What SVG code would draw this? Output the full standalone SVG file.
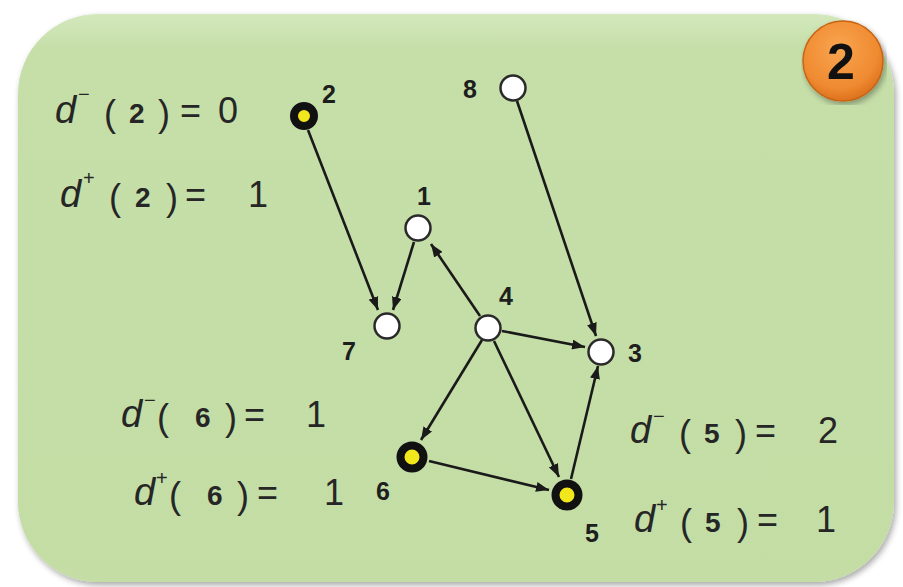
<svg xmlns="http://www.w3.org/2000/svg" width="903" height="587" viewBox="0 0 903 587">
<defs>
<linearGradient id="bg" x1="0" y1="0" x2="0" y2="1">
<stop offset="0" stop-color="#d3e8bd"/>
<stop offset="0.06" stop-color="#c6dfa9"/>
<stop offset="1" stop-color="#c3dda5"/>
</linearGradient>
<radialGradient id="badge" cx="0.45" cy="0.35" r="0.7">
<stop offset="0" stop-color="#f9a550"/>
<stop offset="0.7" stop-color="#ef8a30"/>
<stop offset="1" stop-color="#d86a18"/>
</radialGradient>
<filter id="sh" x="-5%" y="-5%" width="110%" height="110%">
<feGaussianBlur in="SourceAlpha" stdDeviation="3"/>
<feOffset dx="2" dy="3"/>
<feComponentTransfer><feFuncA type="linear" slope="0.35"/></feComponentTransfer>
<feMerge><feMergeNode/><feMergeNode in="SourceGraphic"/></feMerge>
</filter>
<marker id="arr" viewBox="0 0 13 10" refX="13" refY="5" markerWidth="13" markerHeight="10" markerUnits="userSpaceOnUse" orient="auto">
<path d="M0,0 L13,5 L0,10 Z" fill="#1a1a1a"/>
</marker>
</defs>
<style>
.t{font-family:"Liberation Sans",Arial,sans-serif;fill:#262626}
.d{font-style:italic;font-size:38px}
.p{font-size:36px}
.s{font-size:20px}
.b{font-weight:bold;font-size:28px}
.n{font-size:36px}
.lb{font-family:"Liberation Sans",Arial,sans-serif;font-weight:bold;font-size:25px;fill:#1e1e1e}
.e{stroke:#1a1a1a;stroke-width:2.6;fill:none;marker-end:url(#arr)}
.w{fill:#ffffff;stroke:#2a2a2a;stroke-width:2.5}
.y{fill:#f2e61c;stroke:#111111;stroke-width:8}
</style>
<rect width="903" height="587" fill="#ffffff"/>
<rect x="18" y="14" width="876" height="568" rx="80" ry="80" fill="url(#bg)" filter="url(#sh)"/>

<g id="badge2">
<circle cx="843" cy="61" r="40" fill="url(#badge)" stroke="#c86414" stroke-width="1.5" filter="url(#sh)"/>
<text x="841" y="79" text-anchor="middle" font-family="Liberation Sans,Arial,sans-serif" font-weight="bold" font-size="50" fill="#111">2</text>
</g>

<g id="connectors">
<line class="e" x1="308" y1="130" x2="378" y2="310"/>
<line class="e" x1="414" y1="242" x2="393" y2="310"/>
<line class="e" x1="480" y1="316" x2="431" y2="244"/>
<line class="e" x1="502" y1="331" x2="585" y2="347"/>
<line class="e" x1="517" y1="101" x2="596" y2="336"/>
<line class="e" x1="482" y1="340" x2="421" y2="440"/>
<line class="e" x1="494" y1="341" x2="559" y2="477"/>
<line class="e" x1="429" y1="461" x2="549" y2="490"/>
<line class="e" x1="571" y1="479" x2="598" y2="366"/>
</g>

<g id="node2"><circle class="y" cx="304" cy="116" r="10"/><text class="lb" x="322" y="103">2</text></g>
<g id="node8"><circle class="w" cx="513" cy="88" r="12.5"/><text class="lb" x="463" y="98">8</text></g>
<g id="node1"><circle class="w" cx="418" cy="228" r="12.5"/><text class="lb" x="417" y="205">1</text></g>
<g id="node7"><circle class="w" cx="387" cy="326" r="12.5"/><text class="lb" x="342" y="360">7</text></g>
<g id="node4"><circle class="w" cx="488" cy="328" r="12.5"/><text class="lb" x="499" y="305">4</text></g>
<g id="node3"><circle class="w" cx="601" cy="352" r="12.5"/><text class="lb" x="628" y="362">3</text></g>
<g id="node6"><circle class="y" cx="412" cy="457" r="11.5"/><text class="lb" x="376" y="500">6</text></g>
<g id="node5"><circle class="y" cx="567" cy="495" r="11.5"/><text class="lb" x="585" y="542">5</text></g>

<g id="deg2">
<text class="t d" x="55" y="123">d</text><text class="t s" x="78" y="101">−</text>
<text class="t p" x="104" y="126">(</text><text class="t b" x="129" y="123">2</text><text class="t p" x="158" y="126">)</text>
<text class="t n" x="180" y="123">=</text><text class="t n" x="218" y="123">0</text>
<text class="t d" x="60" y="207">d</text><text class="t s" x="83" y="185">+</text>
<text class="t p" x="109" y="210">(</text><text class="t b" x="135" y="207">2</text><text class="t p" x="166" y="210">)</text>
<text class="t n" x="185" y="207">=</text><text class="t n" x="248" y="207" font-size="40">1</text>
</g>
<g id="deg6">
<text class="t d" x="121" y="427">d</text><text class="t s" x="144" y="407">−</text>
<text class="t p" x="157" y="430">(</text><text class="t b" x="195" y="427">6</text><text class="t p" x="225" y="430">)</text>
<text class="t n" x="244" y="427">=</text><text class="t n" x="306" y="427">1</text>
<text class="t d" x="134" y="505">d</text><text class="t s" x="156" y="485">+</text>
<text class="t p" x="169" y="508">(</text><text class="t b" x="207" y="505">6</text><text class="t p" x="237" y="508">)</text>
<text class="t n" x="257" y="505">=</text><text class="t n" x="324" y="505">1</text>
</g>
<g id="deg5">
<text class="t d" x="630" y="443">d</text><text class="t s" x="653" y="423">−</text>
<text class="t p" x="679" y="446">(</text><text class="t b" x="704" y="443">5</text><text class="t p" x="735" y="446">)</text>
<text class="t n" x="755" y="443">=</text><text class="t n" x="818" y="443">2</text>
<text class="t d" x="634" y="532">d</text><text class="t s" x="656" y="512">+</text>
<text class="t p" x="680" y="535">(</text><text class="t b" x="705" y="532">5</text><text class="t p" x="737" y="535">)</text>
<text class="t n" x="757" y="532">=</text><text class="t n" x="816" y="532">1</text>
</g>
</svg>
